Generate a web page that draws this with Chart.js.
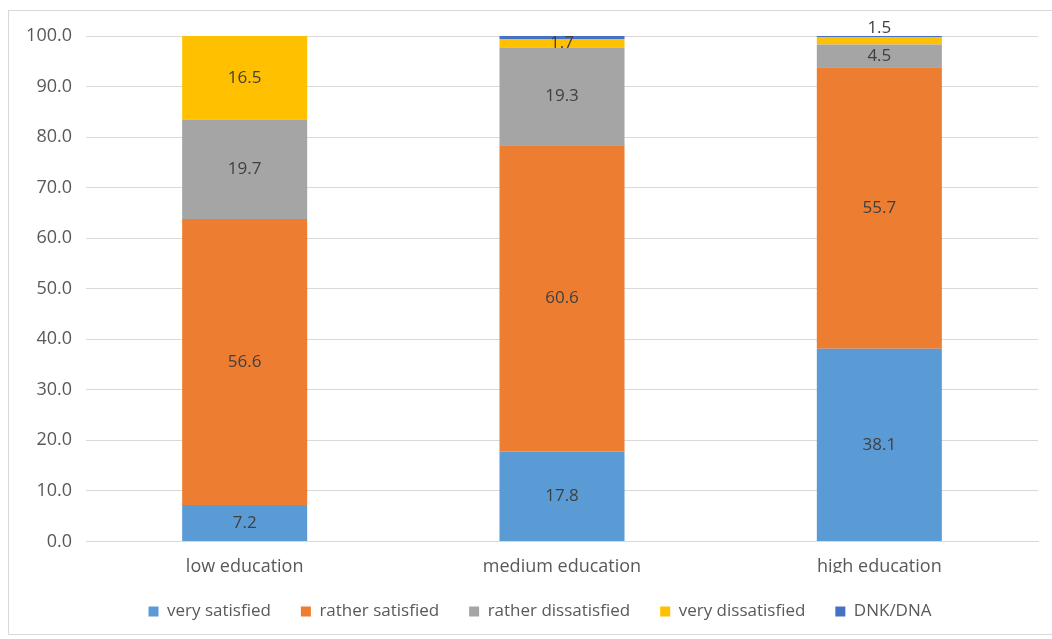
<!DOCTYPE html>
<html>
<head>
<meta charset="utf-8">
<script src="https://cdn.jsdelivr.net/npm/chart.js@4"></script>
<style>
html,body{margin:0;padding:0;background:#fff;}
#wrap{position:relative;width:1052px;height:639px;overflow:hidden;}
#frame{position:absolute;left:8px;top:10px;width:1100px;height:625px;border:1px solid #d9d9d9;box-sizing:border-box;}
canvas{position:absolute;left:0;top:0;}
</style>
</head>
<body>
<div id="wrap"><div id="frame"></div><canvas id="c" width="1052" height="639"></canvas></div>
<script>
const categories = ["low education", "medium education", "high education"];
const verySatisfied = [7.2, 17.8, 38.1];
const ratherSatisfied = [56.6, 60.6, 55.7];
const ratherDissatisfied = [19.7, 19.3, 4.5];
const veryDissatisfied = [16.5, 1.7, 1.5];
const dnkDna = [0.0, 0.6, 0.2];
const seriesNames = ["very satisfied", "rather satisfied", "rather dissatisfied", "very dissatisfied", "DNK/DNA"];
const seriesColors = ["#5B9BD5", "#ED7D31", "#A5A5A5", "#FFC000", "#4472C4"];
const FONT = "'Open Sans', sans-serif";

const allSeries = [verySatisfied, ratherSatisfied, ratherDissatisfied, veryDissatisfied, dnkDna];

const labelPlugin = {
  id: 'segLabels',
  afterDatasetsDraw(chart) {
    const ctx = chart.ctx;
    ctx.save();
    ctx.font = "17px " + FONT;
    ctx.fillStyle = "#404040";
    ctx.textAlign = "center";
    ctx.textBaseline = "middle";
    chart.data.datasets.forEach((ds, di) => {
      if (ds.hideLabel) return;
      const meta = chart.getDatasetMeta(di);
      meta.data.forEach((bar, i) => {
        const v = ds.data[i];
        if (!v) return;
        let y = (bar.y + bar.base) / 2;
        if (di === 3 && i === 2) {
          const topMeta = chart.getDatasetMeta(4).data[i];
          y = Math.min(bar.y, topMeta.y) - 8;
        }
        ctx.fillText(v.toFixed(1), bar.x, y);
      });
    });
    ctx.restore();
  }
};

const legendShift = {
  id: 'legendShift',
  afterLayout(chart) {
    if (chart.legend) { chart.legend.left += 16; chart.legend.right += 16; }
  }
};

new Chart(document.getElementById('c'), {
  type: 'bar',
  data: {
    labels: categories,
    datasets: allSeries.map((d, k) => ({
      label: seriesNames[k],
      data: d,
      backgroundColor: seriesColors[k],
      borderWidth: 0,
      categoryPercentage: 1.0,
      barPercentage: 0.394,
      hideLabel: k === 4
    }))
  },
  options: {
    responsive: false,
    animation: false,
    layout: { padding: { left: 10, right: 14, top: 36, bottom: 9 } },
    plugins: {
      legend: {
        position: 'bottom',
        labels: {
          font: { family: FONT, size: 17 },
          color: '#595959',
          boxWidth: 10,
          boxHeight: 10,
          padding: 30
        }
      },
      tooltip: { enabled: false }
    },
    scales: {
      x: {
        stacked: true,
        grid: { display: false, drawTicks: false },
        border: { color: '#d9d9d9' },
        ticks: { font: { family: FONT, size: 18 }, color: '#595959', padding: 15 },
        afterFit(scale) { scale.height -= 20; }
      },
      y: {
        stacked: true,
        min: 0,
        max: 100,
        grid: { color: '#d9d9d9', drawTicks: false },
        border: { display: false },
        ticks: {
          stepSize: 10,
          font: { family: FONT, size: 18 },
          color: '#595959',
          padding: 14,
          callback: v => Number(v).toFixed(1)
        },
        afterFit(scale) { scale.width = 76; }
      }
    }
  },
  plugins: [labelPlugin, legendShift]
});
</script>
</body>
</html>
